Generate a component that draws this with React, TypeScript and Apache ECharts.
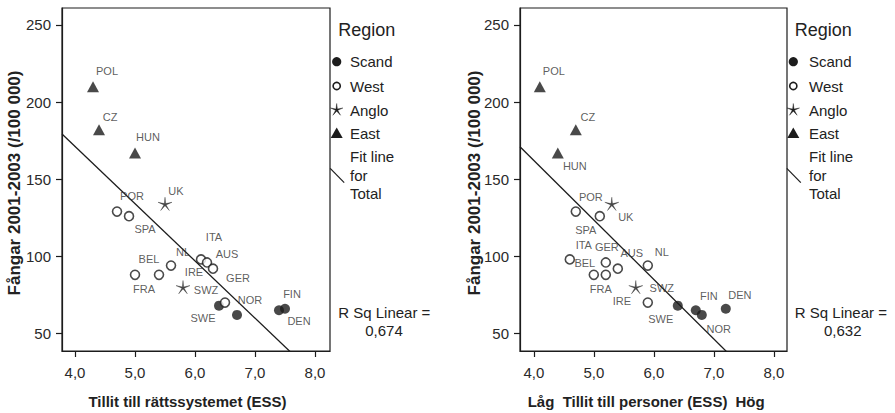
import React, { useEffect, useRef } from "react";
import * as echarts from "echarts";

// ---- data ----
const countries = ["POL", "CZ", "HUN", "UK", "POR", "SPA", "BEL", "FRA", "NL", "ITA", "AUS", "GER", "IRE", "SWZ", "SWE", "NOR", "FIN", "DEN"];
const regions = ["East", "East", "East", "Anglo", "West", "West", "West", "West", "West", "West", "West", "West", "Anglo", "West", "Scand", "Scand", "Scand", "Scand"];
const prisoners = [210, 182, 167, 134, 129, 126, 88, 88, 94, 98, 96, 92, 80, 70, 68, 62, 65, 66];
const trustLegal = [4.3, 4.4, 5.0, 5.5, 4.7, 4.9, 5.4, 5.0, 5.6, 6.1, 6.2, 6.3, 5.8, 6.5, 6.4, 6.7, 7.4, 7.5];
const trustPeople = [4.1, 4.7, 4.4, 5.3, 4.7, 5.1, 5.0, 5.2, 5.9, 4.6, 5.2, 5.4, 5.7, 5.9, 6.4, 6.8, 6.7, 7.2];
const regionNames = ["Scand", "West", "Anglo", "East"];
const xTicks = [4, 5, 6, 7, 8];
const yTicks = [50, 100, 150, 200, 250];
// fit lines: [intercept, slope]
const fitLegal = [319.6, -37.1];
const fitPeople = [316.6, -38.6];
const rSqLegal = "0,674";
const rSqPeople = "0,632";

// ---- label placement (style) ----
const labelOffsetLeft: Record<string, [number, number]> = {
  POL: [14, -16], CZ: [11, -13], HUN: [13, -16], UK: [11, -13], POR: [15, -16], SPA: [16, 13],
  BEL: [-10, -16], FRA: [9, 14], NL: [12, -14], ITA: [13, -22], AUS: [20, -8], GER: [25, 9],
  IRE: [11, -15], SWZ: [-19, -13], SWE: [-16, 12], NOR: [13, -15], FIN: [13, -16], DEN: [14, 12],
};
const labelOffsetRight: Record<string, [number, number]> = {
  POL: [14, -16], CZ: [12, -13], HUN: [17, 13], UK: [14, 13], POR: [15, -15], SPA: [-14, 14],
  ITA: [14, -14], BEL: [-9, -12], AUS: [26, -9], GER: [-11, -22], NL: [14, -14], FRA: [-5, 14],
  IRE: [-14, 14], SWZ: [14, -15], SWE: [-17, 13], FIN: [13, -14], NOR: [17, 14], DEN: [14, -14],
};

const INK = "#1c1c1c";
const FONT = "'Liberation Sans', Arial, sans-serif";

function starPoints(cx: number, cy: number, R: number, r: number): number[][] {
  const pts: number[][] = [];
  for (let i = 0; i < 10; i++) {
    const ang = -Math.PI / 2 + (i * Math.PI) / 5;
    const rad = i % 2 === 0 ? R : r;
    pts.push([cx + rad * Math.cos(ang), cy + rad * Math.sin(ang)]);
  }
  return pts;
}
const starPath =
  "path://M" + starPoints(10, 10, 10, 1.6).map((p) => p[0].toFixed(2) + " " + p[1].toFixed(2)).join(" L") + " Z";

const symbolStyle: Record<string, any> = {
  Scand: { symbol: "circle", symbolSize: 10, itemStyle: { color: INK } },
  West: { symbol: "circle", symbolSize: 9, itemStyle: { color: "#fff", borderColor: INK, borderWidth: 1.6 } },
  Anglo: { symbol: starPath, symbolSize: 14, symbolKeepAspect: true, itemStyle: { color: INK, borderColor: INK, borderWidth: 0.4 } },
  East: { symbol: "triangle", symbolSize: [12, 11], itemStyle: { color: INK } },
};

export default function App() {
  const ref = useRef<HTMLDivElement>(null);
  useEffect(() => {
    if (!ref.current) return;
    const chart = echarts.init(ref.current, undefined, { renderer: "svg" });

    const grids = [
      { left: 62, top: 8, width: 268, height: 343 },
      { left: 520, top: 8, width: 267, height: 343 },
    ];
    const xRanges = [
      [3.783, 8.25],
      [3.77, 8.22],
    ];
    const yRange = [38.6, 261];
    const xs = [trustLegal, trustPeople];
    const offs = [labelOffsetLeft, labelOffsetRight];
    const fits = [fitLegal, fitPeople];

    const series: any[] = [];
    for (let g = 0; g < 2; g++) {
      for (const reg of regionNames) {
        const data: any[] = [];
        countries.forEach((c, i) => {
          if (regions[i] !== reg) return;
          data.push({
            value: [xs[g][i], prisoners[i]],
            name: c,
            label: { offset: offs[g][c] || [12, -12] },
          });
        });
        series.push({
          type: "scatter",
          xAxisIndex: g,
          yAxisIndex: g,
          ...symbolStyle[reg],
          data,
          label: {
            show: true,
            position: "inside",
            formatter: (p: any) => p.name,
            color: "#333",
            fontSize: 11,
            fontFamily: FONT,
            align: "center",
            verticalAlign: "middle",
          },
          z: 3,
        });
      }
      const [a, b] = fits[g];
      const [x0, x1] = xRanges[g];
      series.push({
        type: "line",
        xAxisIndex: g,
        yAxisIndex: g,
        data: [
          [x0, a + b * x0],
          [x1, a + b * x1],
        ],
        showSymbol: false,
        clip: true,
        lineStyle: { color: INK, width: 1.3 },
        z: 2,
      });
    }

    const axisCommon = {
      axisLine: { show: true, onZero: false, lineStyle: { color: INK, width: 1.2 } },
      splitLine: { show: false },
    };

    const xAxis = [0, 1].map((g) => ({
      type: "value",
      gridIndex: g,
      min: xRanges[g][0],
      max: xRanges[g][1],
      ...axisCommon,
      axisTick: { show: true, length: 6, customValues: xTicks, lineStyle: { color: INK, width: 1.2 } },
      axisLabel: {
        customValues: xTicks,
        formatter: (v: number) => v.toFixed(1).replace(".", ","),
        fontSize: 15,
        fontFamily: FONT,
        color: "#2a2a2a",
        margin: 14,
      },
    }));
    const yAxis = [0, 1].map((g) => ({
      type: "value",
      gridIndex: g,
      min: yRange[0],
      max: yRange[1],
      ...axisCommon,
      axisTick: { show: true, length: 6, customValues: yTicks, lineStyle: { color: INK, width: 1.2 } },
      axisLabel: {
        customValues: yTicks,
        fontSize: 15,
        fontFamily: FONT,
        color: "#2a2a2a",
        margin: 11,
      },
    }));

    const txt = (x: number, y: number, text: string, opts: any = {}) => ({
      type: "text",
      x,
      y,
      rotation: opts.rotation || 0,
      style: {
        text,
        fill: opts.fill || "#222",
        font: `${opts.bold ? "bold " : ""}${opts.size || 15}px ${FONT}`,
        align: opts.align || "left",
        verticalAlign: "middle",
      },
    });

    const legend = (lx: number, tx: number, rsq: string, rsqCenter: number) => {
      const star = starPoints(lx, 110, 6.5, 1.2);
      return [
        txt(lx + 1.5, 30, "Region", { size: 18 }),
        { type: "circle", shape: { cx: lx, cy: 61.7, r: 4.6 }, style: { fill: INK } },
        { type: "circle", shape: { cx: lx, cy: 86, r: 3.6 }, style: { fill: "#fff", stroke: INK, lineWidth: 1.6 } },
        { type: "polygon", shape: { points: star }, style: { fill: INK, stroke: INK, lineWidth: 0.4 } },
        { type: "polygon", shape: { points: [[lx, 127.5], [lx + 6, 138], [lx - 6, 138]] }, style: { fill: INK } },
        { type: "line", shape: { x1: lx - 6.5, y1: 168.3, x2: lx + 7.5, y2: 182.7 }, style: { stroke: INK, lineWidth: 1.2 } },
        txt(tx, 61.7, "Scand"),
        txt(tx, 86, "West"),
        txt(tx, 110, "Anglo"),
        txt(tx, 133.3, "East"),
        txt(tx, 156.7, "Fit line"),
        txt(tx, 175, "for"),
        txt(tx, 193.3, "Total"),
        txt(lx + 1.5, 312.3, "R Sq Linear ="),
        txt(rsqCenter, 330, rsq, { align: "center" }),
      ];
    };

    const graphic: any[] = [
      txt(14.7, 183, "Fångar 2001-2003 (/100 000)", { bold: true, size: 17, align: "center", rotation: Math.PI / 2 }),
      txt(474, 183, "Fångar 2001-2003 (/100 000)", { bold: true, size: 17, align: "center", rotation: Math.PI / 2 }),
      txt(187.5, 401.5, "Tillit till rättssystemet (ESS)", { bold: true, size: 15, align: "center" }),
      txt(541, 401.5, "Låg", { bold: true, size: 15, align: "center" }),
      txt(645, 401.5, "Tillit till personer (ESS)", { bold: true, size: 15, align: "center" }),
      txt(750, 401.5, "Hög", { bold: true, size: 15, align: "center" }),
      ...legend(336.7, 350, rSqLegal, 384),
      ...legend(793.3, 809, rSqPeople, 842.7),
    ];

    chart.setOption({
      animation: false,
      backgroundColor: "#fff",
      grid: grids.map((g) => ({ ...g, show: true, borderColor: INK, borderWidth: 1.2, backgroundColor: "transparent" })),
      xAxis,
      yAxis,
      series,
      graphic,
    });
    return () => chart.dispose();
  }, []);
  return (
    <div
      ref={ref}
      style={{ position: "fixed", left: 0, top: 0, width: 895, height: 413, background: "#fff" }}
    />
  );
}
